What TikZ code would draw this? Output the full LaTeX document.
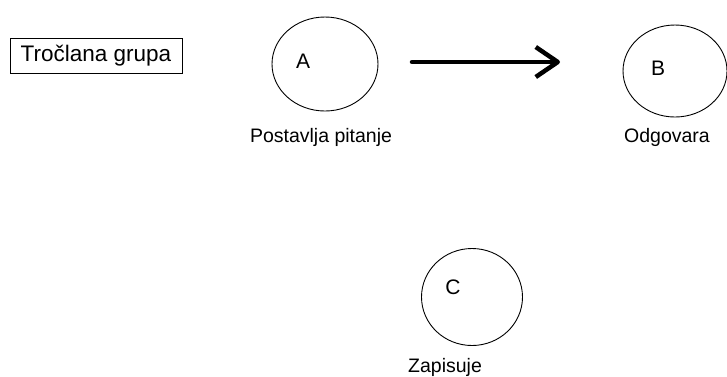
\documentclass[tikz,border=0pt]{standalone}
\usepackage{fontspec}
\setmainfont{Liberation Sans}
\usetikzlibrary{arrows.meta,shapes.geometric}

\begin{document}
\begin{tikzpicture}[x=1pt,y=-1pt,
    member/.style={ellipse,draw,line width=0.9pt,inner sep=0pt},
    letter/.style={font=\fontsize{21}{24}\selectfont},
    role/.style={font=\fontsize{19.5}{22}\selectfont}]
  \useasboundingbox (0,0) rectangle (727,376);
  \node[draw,line width=0.9pt,minimum width=172pt,minimum height=35pt,inner sep=0pt,
    font=\fontsize{22.5}{26}\selectfont] (G) at (96,55.5) {Tročlana grupa};
  \node[member,minimum width=106pt,minimum height=94pt] (A) at (325,64) {};
  \node[member,minimum width=104pt,minimum height=92pt] (B) at (675,71) {};
  \node[member,minimum width=101pt,minimum height=97pt] (C) at (472,297) {};
  \node[letter] (Al) at (303,61) {A};
  \node[letter] (Bl) at (658,68) {B};
  \node[letter] (Cl) at (453,287) {C};
  \node[role] (Ar) at (321,137) {Postavlja pitanje};
  \node[role] (Br) at (667,137) {Odgovara};
  \node[role] (Cr) at (445,367) {Zapisuje};
  \coordinate (from) at (412,62);
  \coordinate (to) at (560,62);
  \draw[line width=4.5pt,line cap=round,
    -{Straight Barb[length=22pt,width=30pt,line join=round]}] (from) -- (to);
\end{tikzpicture}
\end{document}
